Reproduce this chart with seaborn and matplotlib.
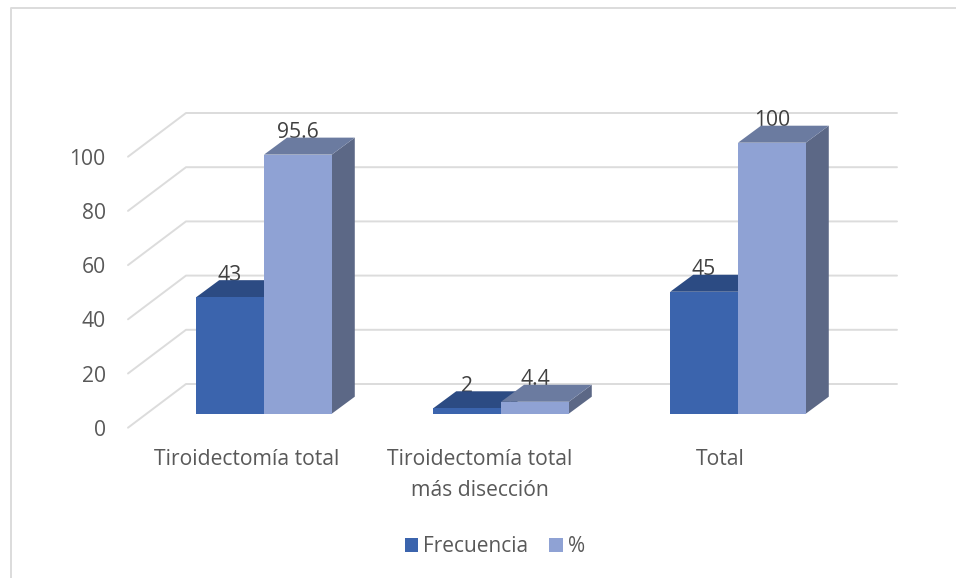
import matplotlib
matplotlib.use("Agg")
import matplotlib.pyplot as plt
from matplotlib.lines import Line2D
from matplotlib.patches import Polygon
from matplotlib.transforms import ScaledTranslation
import pandas as pd
import seaborn as sns

categorias = ["Tiroidectomía total", "Tiroidectomía total\nmás disección", "Total"]
frecuencia = [43, 2, 45]
porcentaje = [95.6, 4.4, 100]
series = ["Frecuencia", "%"]
marcas_y = [0, 20, 40, 60, 80, 100]

COLOR_FRENTE = ["#3B64AD", "#8FA2D4"]
COLOR_TECHO = ["#2C4B83", "#6B7BA0"]
COLOR_LADO = ["#2C4B83", "#5C6886"]
GRIS_TEXTO = "#595959"
GRIS_DATO = "#404040"
GRIS_LINEA = "#DCDCDC"
FUENTE = 15.2

W, H = 956, 578


def caja(izq, der, inf, sup):
    return [izq / W, 1 - inf / H, (der - izq) / W, (inf - sup) / H]


sns.set_theme(style="white")
plt.rcParams["font.family"] = ["Open Sans", "DejaVu Sans"]

df = pd.DataFrame({
    "categoria": categorias * 2,
    "serie": [series[0]] * 3 + [series[1]] * 3,
    "valor": frecuencia + porcentaje,
})

fig = plt.figure(figsize=(W / 100, H / 100), dpi=100)

# Front plane of the box: carries the tick labels and the wall gridlines
ax_base = fig.add_axes(caja(128, 839, 427.7, 156.7), zorder=0)
ax_base.set_xlim(-0.5, 2.5)
ax_base.set_ylim(0, 100)
ax_base.set_yticks(marcas_y)
ax_base.set_xticks(range(3), categorias)
ax_base.tick_params(axis="y", length=0, pad=16, labelsize=FUENTE, labelcolor=GRIS_TEXTO)
ax_base.tick_params(axis="x", length=0, pad=15.5, labelsize=FUENTE, labelcolor=GRIS_TEXTO)
sns.despine(ax=ax_base, left=True, bottom=True)
ax_base.patch.set_visible(False)
for etiqueta in ax_base.get_xticklabels():
    etiqueta.set_linespacing(1.6)
# The two-line label sits slightly left of its slot
medio = ax_base.get_xticklabels()[1]
medio.set_transform(medio.get_transform() + ScaledTranslation(-2.4 / 72, 0, fig.dpi_scale_trans))

PROF_X = 58 / 237
PROF_Y = 43.7 / 2.71
for v in marcas_y:
    ax_base.plot([-0.5, -0.5 + PROF_X, 2.5 + PROF_X], [v, v + PROF_Y, v + PROF_Y],
                 color=GRIS_LINEA, lw=1.4, clip_on=False, zorder=1)

# Bars sit a little deeper inside the box, so their axes is shifted up and right
ax = fig.add_axes(caja(145.5, 856.5, 413.7, 142.7), zorder=1)
ax.patch.set_visible(False)
sns.barplot(data=df, x="categoria", y="valor", hue="serie", order=categorias,
            hue_order=series, palette=COLOR_FRENTE, width=0.572, gap=0,
            saturation=1, linewidth=0, ax=ax, errorbar=None)
ax.set_xlim(-0.5, 2.5)
ax.set_ylim(0, 100)
ax.set_xticks([])
ax.set_yticks([])
ax.set_xlabel("")
ax.set_ylabel("")
sns.despine(ax=ax, left=True, bottom=True)

BARRA_X = 23 / 237
BARRA_Y = 17 / 2.71
for i, contenedor in enumerate(ax.containers):
    for barra in contenedor:
        x0, x1 = barra.get_x(), barra.get_x() + barra.get_width()
        v = barra.get_height()
        techo = [(x0, v), (x1, v), (x1 + BARRA_X, v + BARRA_Y), (x0 + BARRA_X, v + BARRA_Y)]
        lado = [(x1, 0), (x1 + BARRA_X, BARRA_Y), (x1 + BARRA_X, v + BARRA_Y), (x1, v)]
        ax.add_patch(Polygon(lado, closed=True, fc=COLOR_LADO[i], ec="none",
                             clip_on=False, zorder=0.7 + i * 0.05))
        ax.add_patch(Polygon(techo, closed=True, fc=COLOR_TECHO[i], ec="none",
                             clip_on=False, zorder=0.7 + i * 0.05))
        # Value label sits behind the roof of its bar
        ax.annotate(f"{v:g}", ((x0 + x1) / 2, v), xytext=(0, 15.8), textcoords="offset points",
                    ha="center", va="center", fontsize=FUENTE, color=GRIS_DATO,
                    annotation_clip=False, zorder=0.5)

sns.move_legend(ax, "center", bbox_to_anchor=(495 / W, 1 - 547 / H),
                bbox_transform=fig.transFigure, ncol=2, title=None, frameon=False,
                fontsize=15, labelcolor=GRIS_TEXTO, handlelength=0.66, handleheight=0.66,
                handletextpad=0.25, columnspacing=1.0)

# Chart area border: only the top and left edges remain
fig.add_artist(Line2D([10.5 / W, 10.5 / W, 1], [0, 1 - 7.5 / H, 1 - 7.5 / H],
                      color=GRIS_LINEA, lw=1.4))

fig.savefig("out.png", dpi=100)
